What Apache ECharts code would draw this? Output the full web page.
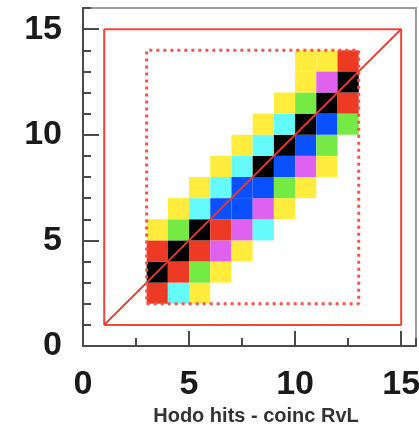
<!DOCTYPE html>
<html lang="en">
<head>
    <meta charset="UTF-8">
    <title>Hodo hits - coinc RvL</title>
    <script src="https://cdn.jsdelivr.net/npm/echarts@6/dist/echarts.min.js"></script>
    <style>
        *{
            margin: 0;
            padding: 0;
        }
        html, body{
            background: #fff;
        }
        .container{
            width: 419px;
            height: 427px;
        }
    </style>
</head>
<body>
<div class="container"></div>
<script>
    // one row of bins per y value, filled from rowStartX to the right
    // level: 1 yellow, 2 cyan, 3 green, 4 magenta, 5 blue, 6 red, 7 black
    const rowY = [2, 3, 4, 5, 6, 7, 8, 9, 10, 11, 12, 13]
    const rowStartX = [3, 3, 3, 3, 4, 5, 6, 7, 8, 9, 10, 10]
    const rowLevels = [
        [6, 2, 1],
        [7, 6, 3, 1],
        [6, 7, 6, 4, 1],
        [1, 3, 7, 6, 4, 2],
        [1, 2, 5, 5, 4, 1],
        [1, 2, 5, 5, 3, 1],
        [1, 2, 7, 5, 4, 1],
        [1, 2, 7, 5, 3],
        [1, 2, 7, 5, 3],
        [1, 3, 7, 6],
        [1, 4, 7],
        [1, 1, 6]
    ]
    const outerBox = [[1, 1], [15, 1], [15, 15], [1, 15], [1, 1]]
    const innerBox = [[3, 2], [13, 2], [13, 14], [3, 14], [3, 2]]
    const diagonal = [[1, 1], [15, 15]]
    const majorTicks = [0, 5, 10, 15]

    const palette = ['#ffec3c', '#66fbfb', '#76ea44', '#de62ee', '#0a50ff', '#ec3a24', '#000000']

    let cells = []
    rowY.forEach((y, i) => {
        rowLevels[i].forEach((lv, j) => {
            cells.push([rowStartX[i] + j, y, lv])
        })
    })

    let container = document.querySelector('.container')
    let chart = echarts.init(container)

    const labelFont = {
        fontFamily: 'Liberation Sans',
        fontWeight: 'bold',
        fontSize: 34,
        color: '#1a1a1a'
    }

    let option = {
        animation: false,
        grid: {
            left: 83,
            top: 8,
            width: 333,
            height: 338,
            outerBoundsMode: 'none',
            containLabel: false,
            show: true,
            borderColor: '#9a9a9a',
            borderWidth: 2
        },
        xAxis: [{
            type: 'value',
            min: 0,
            max: 15.7,
            interval: 5,
            name: 'Hodo hits - coinc RvL',
            nameLocation: 'middle',
            nameGap: 59,
            nameTextStyle: {
                fontFamily: 'Liberation Sans',
                fontWeight: 'bold',
                fontSize: 20,
                color: '#333',
                padding: [0, 0, 0, 13]
            },
            axisLine: {lineStyle: {color: '#4a4a4a', width: 2}},
            axisTick: {inside: true, length: 15, customValues: majorTicks, lineStyle: {color: '#4a4a4a', width: 2}},
            axisLabel: Object.assign({margin: 22, customValues: majorTicks}, labelFont),
            splitLine: {show: false}
        }, {
            type: 'value',
            position: 'bottom',
            min: 0,
            max: 15.7,
            interval: 2.5,
            axisLine: {show: false},
            axisTick: {inside: true, length: 8, lineStyle: {color: '#4a4a4a', width: 2}},
            axisLabel: {show: false},
            splitLine: {show: false}
        }],
        yAxis: [{
            type: 'value',
            min: 0,
            max: 16,
            interval: 5,
            axisLine: {show: true, lineStyle: {color: '#4a4a4a', width: 2}},
            axisTick: {show: true, inside: true, length: 16, customValues: majorTicks, lineStyle: {color: '#4a4a4a', width: 2}},
            axisLabel: Object.assign({margin: 21, customValues: majorTicks}, labelFont),
            splitLine: {show: false}
        }, {
            type: 'value',
            position: 'left',
            min: 0,
            max: 16,
            interval: 1,
            axisLine: {show: false},
            axisTick: {show: true, inside: true, length: 8, lineStyle: {color: '#4a4a4a', width: 2}},
            axisLabel: {show: false},
            splitLine: {show: false}
        }],
        series: [{
            type: 'custom',
            data: cells,
            encode: {x: 0, y: 1},
            z: 2,
            renderItem: function (params, api) {
                let p0 = api.coord([api.value(0), api.value(1) + 1])
                let p1 = api.coord([api.value(0) + 1, api.value(1)])
                return {
                    type: 'rect',
                    shape: {x: p0[0], y: p0[1], width: p1[0] - p0[0], height: p1[1] - p0[1]},
                    style: {fill: palette[api.value(2) - 1]}
                }
            }
        }, {
            type: 'line',
            data: outerBox,
            symbol: 'none',
            z: 3,
            lineStyle: {color: '#f0473a', width: 2}
        }, {
            type: 'line',
            data: diagonal,
            symbol: 'none',
            z: 4,
            lineStyle: {color: '#e83a2e', width: 2}
        }, {
            type: 'line',
            data: innerBox,
            symbol: 'none',
            z: 4,
            lineStyle: {color: '#f2564a', width: 3, type: [3, 4]}
        }]
    }

    chart.setOption(option)
</script>
</body>
</html>
